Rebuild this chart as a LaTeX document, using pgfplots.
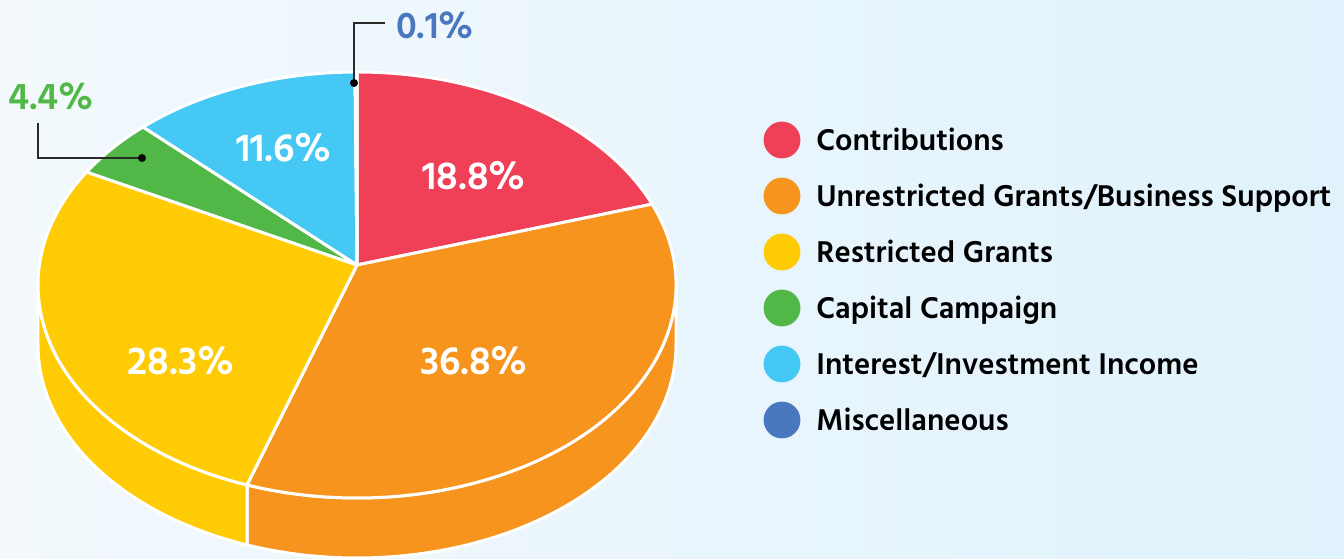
\documentclass[border=0pt]{standalone}
\usepackage{fontspec}
\setmainfont{Hind Madurai}
\usepackage{pgfplots}
\pgfplotsset{compat=1.18}
\definecolor{cRed}{HTML}{EF4058}
\definecolor{cOrange}{HTML}{F7941E}
\definecolor{cYellow}{HTML}{FFCB05}
\definecolor{cGreen}{HTML}{51B848}
\definecolor{cCyan}{HTML}{45C8F4}
\definecolor{cBlue}{HTML}{4A78BE}
\definecolor{bgL}{HTML}{F3F9FD}
\definecolor{bgR}{HTML}{E0F2FB}
\definecolor{lead}{HTML}{2B2B2B}
% data (percent)
\def\pA{18.8}\def\pB{36.8}\def\pC{28.3}\def\pD{4.4}\def\pE{11.6}\def\pF{0.1}
\pgfmathsetmacro\aA{90}
\pgfmathsetmacro\aB{\aA-3.6*\pA}
\pgfmathsetmacro\aC{\aB-3.6*\pB}
\pgfmathsetmacro\aD{\aC-3.6*\pC}
\pgfmathsetmacro\aE{\aD-3.6*\pD}
\pgfmathsetmacro\aF{\aE-3.6*\pE}
\pgfmathsetmacro\aG{\aF-3.6*\pF}
\newcommand\wedgetop[3]{%
  \fill[#1, draw=white, line width=1.5bp, line join=round]
    (axis cs:357,294) -- (axis cs:{357+319*cos(#2)},{274+213*sin(#2)})
    arc[start angle=#2, end angle=#3, x radius=159.5bp, y radius=106.5bp] -- cycle;}
\newcommand\wedgeside[3]{%
  \fill[#1, draw=white, line width=1.5bp, line join=round]
    (axis cs:{357+319*cos(#2)},{274+213*sin(#2)})
    arc[start angle=#2, end angle=#3, x radius=159.5bp, y radius=106.5bp]
    -- ++(0,-30bp)
    arc[start angle=#3, end angle=#2, x radius=159.5bp, y radius=106.5bp] -- cycle;}
\begin{document}
\begin{tikzpicture}
\begin{axis}[
  scale only axis, width=672bp, height=279.5bp,
  xmin=0, xmax=1344, ymin=0, ymax=559,
  hide axis, clip=false]
\fill[left color=bgL, right color=bgR] (axis cs:0,0) rectangle (axis cs:1344,559);
% sides
\wedgeside{cOrange}{0}{\aC}
\wedgeside{cYellow}{\aC}{-180}
% top
\wedgetop{cRed}{\aA}{\aB}
\wedgetop{cOrange}{\aB}{\aC}
\wedgetop{cYellow}{\aC}{\aD}
\wedgetop{cGreen}{\aD}{\aE}
\wedgetop{cCyan}{\aE}{\aF}
\wedgetop{cBlue}{\aF}{\aG}
% labels
\begin{scope}[every node/.style={font=\bfseries\fontsize{20bp}{24bp}\selectfont, text=white, inner sep=0}]
\node at (axis cs:474,383) {18.8\%};
\node at (axis cs:474,198) {36.8\%};
\node at (axis cs:181,198) {28.3\%};
\node at (axis cs:284,411) {11.6\%};
\end{scope}
% leaders
\draw[lead, line width=0.8bp] (axis cs:142,401) -- (axis cs:38,401) -- (axis cs:38,436);
\fill[black] (axis cs:142,401) circle (2bp);
\draw[lead, line width=0.8bp] (axis cs:354,476) -- (axis cs:354,536) -- (axis cs:385,536);
\fill[black] (axis cs:354,476) circle (2bp);
\node[font=\bfseries\fontsize{19bp}{22bp}\selectfont, text=cGreen, inner sep=0] at (axis cs:51,463) {4.4\%};
\node[font=\bfseries\fontsize{19bp}{22bp}\selectfont, text=cBlue, inner sep=0] at (axis cs:435,534) {0.1\%};
% legend
\addplot[only marks, mark=*, mark size=9bp, color=cRed] coordinates {(782,419)};
\addplot[only marks, mark=*, mark size=9bp, color=cOrange] coordinates {(782,363)};
\addplot[only marks, mark=*, mark size=9bp, color=cYellow] coordinates {(782,307)};
\addplot[only marks, mark=*, mark size=9bp, color=cGreen] coordinates {(782,251)};
\addplot[only marks, mark=*, mark size=9bp, color=cCyan] coordinates {(782,195)};
\addplot[only marks, mark=*, mark size=9bp, color=cBlue] coordinates {(782,139)};
\begin{scope}[every node/.style={font=\bfseries\fontsize{15.4bp}{18bp}\selectfont, text=black, inner sep=0, anchor=base west}]
\node at (axis cs:816,408) {Contributions};
\node at (axis cs:816,352) {Unrestricted Grants/Business Support};
\node at (axis cs:816,296) {Restricted Grants};
\node at (axis cs:816,240) {Capital Campaign};
\node at (axis cs:816,184) {Interest/Investment Income};
\node at (axis cs:816,128) {Miscellaneous};
\end{scope}
\end{axis}
\pgfresetboundingbox
\path[use as bounding box] (current axis.south west) rectangle (current axis.north east);
\end{tikzpicture}
\end{document}
